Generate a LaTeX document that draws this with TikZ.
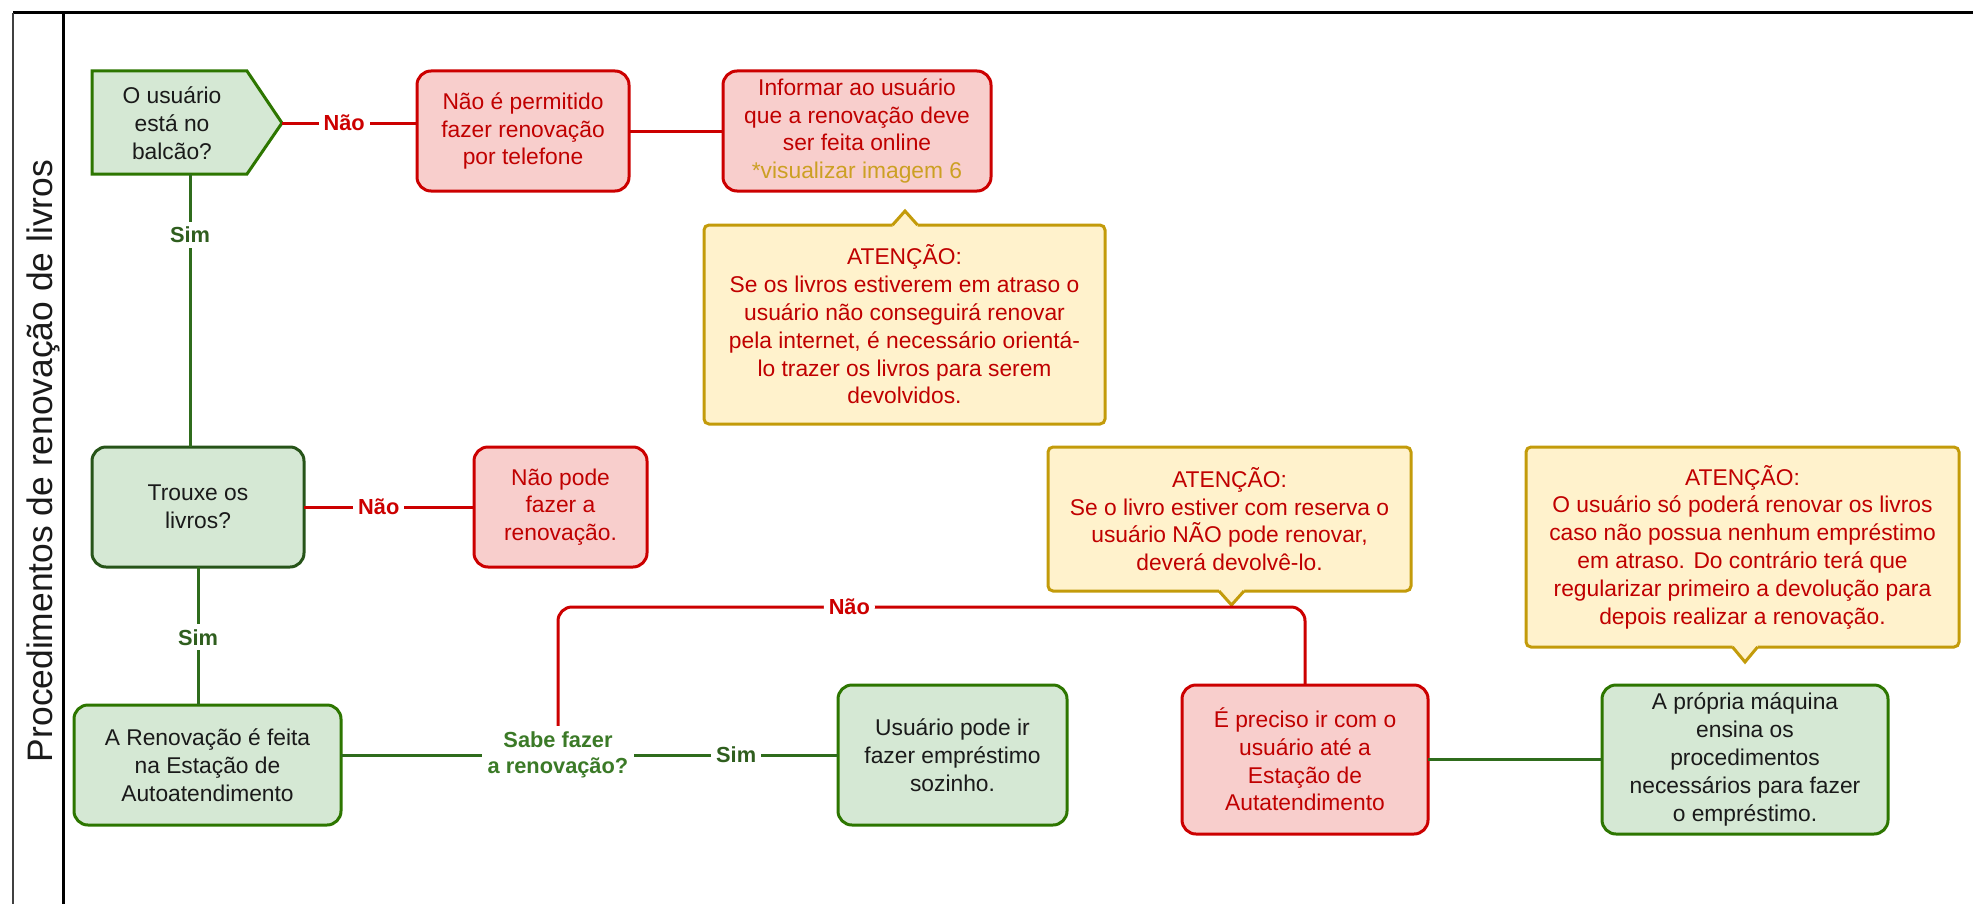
\documentclass[tikz,border=0pt]{standalone}
\usepackage{fontspec}
\setmainfont{Liberation Sans}
\usetikzlibrary{calc}

\definecolor{gfill}{HTML}{D5E8D4}
\definecolor{gstroke}{HTML}{2D7600}
\definecolor{gdark}{HTML}{275419}
\definecolor{gline}{HTML}{2F6C1C}
\definecolor{simtext}{HTML}{2F5E1E}
\definecolor{sabetext}{HTML}{3B7A27}
\definecolor{rfill}{HTML}{F8CECC}
\definecolor{rstroke}{HTML}{CC0000}
\definecolor{rtext}{HTML}{C00000}
\definecolor{yfill}{HTML}{FFF2CC}
\definecolor{ystroke}{HTML}{C39B0A}
\definecolor{goldtext}{HTML}{CCA023}
\definecolor{dtext}{HTML}{1A1A1A}

\newcommand\boxfont{\fontsize{11.4pt}{13.9pt}\selectfont}
\newcommand\lblfont{\fontsize{10.9pt}{13pt}\selectfont\bfseries}
\newcommand\titlefont{\fontsize{17.7pt}{20pt}\selectfont}

\begin{document}
\begin{tikzpicture}[x=0.5pt, y={(0pt,-0.5pt)},
  every node/.style={inner sep=0pt, outer sep=0pt},
  txt/.style={font=\boxfont, align=center},
  greenbox/.style={txt, rectangle, rounded corners=7pt, draw=gstroke, fill=gfill, line width=1.5pt, text=dtext},
  redbox/.style={txt, rectangle, rounded corners=7pt, draw=rstroke, fill=rfill, line width=1.5pt, text=rtext},
  notebox/.style={txt, rectangle, rounded corners=2.5pt, draw=ystroke, fill=yfill, line width=1.5pt, text=rtext},
  lbl/.style={fill=white, inner sep=2.5pt, font=\lblfont},
  noedge/.style={draw=rstroke, line width=1.5pt},
  yesedge/.style={draw=gline, line width=1.5pt},
  pointer/.style={draw=ystroke, line width=1.5pt, line join=miter}]

\useasboundingbox (0,0) rectangle (1973,904);

% lane frame and title
\draw[line width=1.5pt, black] (13,13) -- (1973,13);
\draw[line width=1.4pt, black!75] (13,13) -- (13,904);
\draw[line width=1.5pt, black] (63.5,13) -- (63.5,904);
\node[rotate=90, anchor=base, font=\titlefont, text=dtext] (lane) at (52,461)
  {Procedimentos de renovação de livros};

% first decision (pentagon)
\coordinate (balcaotip) at (282,123);
\coordinate (balcaofoot) at (190,174);
\draw[draw=gstroke, fill=gfill, line width=1.5pt, line join=miter]
  (92,71) -- (247,71) -- (balcaotip) -- (247,174) -- (92,174) -- cycle;
\node[txt, text=dtext] (balcao) at (172,123) {O usuário\\está no\\balcão?};

% boxes
\node[redbox, minimum width=106pt, minimum height=60pt] (nao1) at (523,131)
  {Não é permitido\\fazer renovação\\por telefone};
\node[redbox, minimum width=134pt, minimum height=60pt] (info) at (857,131)
  {Informar ao usuário\\que a renovação deve\\ser feita online\\\textcolor{goldtext}{*visualizar imagem 6}};
\node[notebox, minimum width=200.5pt, minimum height=99.5pt] (att1) at (904.5,324.5)
  {ATENÇÃO:\\Se os livros estiverem em atraso o\\usuário não conseguirá renovar\\pela internet, é necessário orientá-\\lo trazer os livros para serem\\devolvidos.};

\node[greenbox, draw=gdark, minimum width=106pt, minimum height=60pt] (trouxe) at (198,507)
  {Trouxe os\\livros?};
\node[redbox, minimum width=86.5pt, minimum height=60pt] (naopode) at (560.5,507)
  {Não pode\\fazer a\\renovação.};

\node[greenbox, minimum width=133.5pt, minimum height=60pt] (renov) at (207.5,765)
  {A Renovação é feita\\na Estação de\\Autoatendimento};
\node[font=\lblfont, text=sabetext, align=center, fill=white, inner sep=3pt] (sabe) at (558,755)
  {Sabe fazer\\a renovação?};
\node[greenbox, minimum width=114.5pt, minimum height=70pt] (usuario) at (952.5,755)
  {Usuário pode ir\\fazer empréstimo\\sozinho.};

\node[notebox, minimum width=181.5pt, minimum height=72pt] (att2) at (1229.5,519)
  {ATENÇÃO:\\Se o livro estiver com reserva o\\usuário NÃO pode renovar,\\deverá devolvê-lo.};
\node[redbox, minimum width=123pt, minimum height=74.5pt] (epreciso) at (1305,759.5)
  {É preciso ir com o\\usuário até a\\Estação de\\Autatendimento};

\node[notebox, minimum width=216.5pt, minimum height=100pt] (att3) at (1742.5,547)
  {ATENÇÃO:\\O usuário só poderá renovar os livros\\caso não possua nenhum empréstimo\\em atraso. Do contrário terá que\\regularizar primeiro a devolução para\\depois realizar a renovação.};
\node[greenbox, minimum width=143pt, minimum height=74.5pt] (maquina) at (1745,759.5)
  {A própria máquina\\ensina os\\procedimentos\\necessários para fazer\\o empréstimo.};

% callout pointers
\coordinate (t1) at (905,211);
\coordinate (t2) at (1231.5,605);
\coordinate (t3) at (1745,662);
\fill[yfill] ($(t1 |- att1.north)+(-12.5,2)$) -- ($(t1 |- att1.north)+(-12.5,0)$) -- (t1)
  -- ($(t1 |- att1.north)+(12.5,0)$) -- ($(t1 |- att1.north)+(12.5,2)$) -- cycle;
\draw[pointer] ($(t1 |- att1.north)+(-12.5,0)$) -- (t1) -- ($(t1 |- att1.north)+(12.5,0)$);
\fill[yfill] ($(t2 |- att2.south)+(-12.5,-2)$) -- ($(t2 |- att2.south)+(-12.5,0)$) -- (t2)
  -- ($(t2 |- att2.south)+(12.5,0)$) -- ($(t2 |- att2.south)+(12.5,-2)$) -- cycle;
\draw[pointer] ($(t2 |- att2.south)+(-12.5,0)$) -- (t2) -- ($(t2 |- att2.south)+(12.5,0)$);
\fill[yfill] ($(t3 |- att3.south)+(-12.5,-2)$) -- ($(t3 |- att3.south)+(-12.5,0)$) -- (t3)
  -- ($(t3 |- att3.south)+(12.5,0)$) -- ($(t3 |- att3.south)+(12.5,-2)$) -- cycle;
\draw[pointer] ($(t3 |- att3.south)+(-12.5,0)$) -- (t3) -- ($(t3 |- att3.south)+(12.5,0)$);

% connectors
\draw[noedge] (balcaotip) -- node[lbl, pos=.46, text=rstroke] {Não} (balcaotip -| nao1.west);
\draw[noedge] (nao1.east) -- (info.west);
\draw[yesedge] (balcaofoot) -- node[lbl, pos=.223, text=simtext] {Sim} (balcaofoot |- trouxe.north);
\draw[noedge] (trouxe.east) -- node[lbl, pos=.44, text=rstroke] {Não} (naopode.west);
\draw[yesedge] (trouxe.south) -- node[lbl, pos=.51, text=simtext] {Sim} (trouxe.south |- renov.north);
\draw[yesedge] (sabe.west -| renov.east) -- (sabe.west);
\draw[yesedge] (sabe.east) -- node[lbl, pos=.5, text=simtext] {Sim} (usuario.west);
\coordinate (naorow) at (0,607);
\draw[noedge, rounded corners=7pt] (sabe.north) -- (sabe.north |- naorow)
  -- node[lbl, pos=.39, text=rstroke] {Não} (epreciso.north |- naorow) -- (epreciso.north);
\draw[yesedge] (epreciso.east) -- (maquina.west);

\end{tikzpicture}
\end{document}
